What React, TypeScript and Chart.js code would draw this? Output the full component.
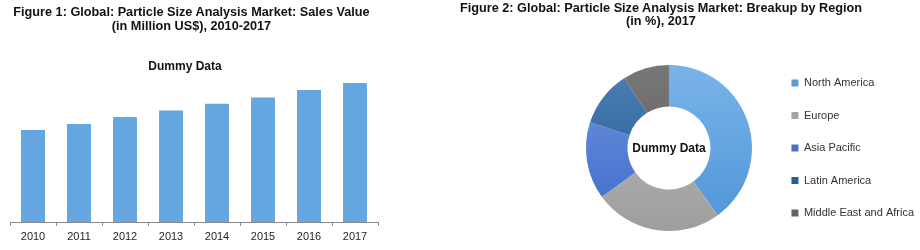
import React, { useEffect, useRef } from "react";
import { Chart, registerables } from "chart.js";

Chart.register(...registerables);

const FONT = '"Liberation Sans", Arial, sans-serif';

// ---- Figure 1 data ----
const years = ["2010", "2011", "2012", "2013", "2014", "2015", "2016", "2017"];
const salesValues = [97.5, 104, 111.3, 118.3, 125.4, 132.1, 139.9, 147.3];
const salesAxisMax = 150;

// ---- Figure 2 data ----
const regions = ["North America", "Europe", "Asia Pacific", "Latin America", "Middle East and Africa"];
const regionShares = [40, 25, 15, 11, 9];
const regionColors = ["#5B9BD5", "#A5A5A5", "#4472C4", "#255E91", "#636363"];
const regionColorsTop = ["#7AB3E9", "#BDBDBD", "#7096DD", "#4C7FB4", "#777777"];
const regionColorsBottom = ["#4E95D8", "#9E9E9E", "#3C69CB", "#1E5893", "#5A5A5A"];

// ---- Texts ----
const figure1Title = ["Figure 1: Global: Particle Size Analysis Market: Sales Value", "(in Million US$), 2010-2017"];
const figure2Title = ["Figure 2: Global: Particle Size Analysis Market: Breakup by Region", "(in %), 2017"];
const watermark = "Dummy Data";

const DONUT_RADIUS = 83;

const centerTextPlugin = {
  id: "centerText",
  afterDatasetsDraw(chart: any) {
    const meta = chart.getDatasetMeta(0);
    const arc = meta && meta.data && meta.data[0];
    if (!arc) return;
    const { ctx } = chart;
    ctx.save();
    ctx.font = `bold 12px ${FONT}`;
    ctx.fillStyle = "#111111";
    ctx.textAlign = "center";
    ctx.textBaseline = "middle";
    ctx.fillText(watermark, arc.x, arc.y + 1);
    ctx.restore();
  },
};

export default function App() {
  const barRef = useRef<HTMLCanvasElement | null>(null);
  const pieRef = useRef<HTMLCanvasElement | null>(null);

  useEffect(() => {
    const axisGrey = "#8C8C8C";
    const bar = new Chart(barRef.current as HTMLCanvasElement, {
      type: "bar",
      data: {
        labels: years,
        datasets: [
          {
            data: salesValues,
            backgroundColor: "#65A6E0",
            borderWidth: 0,
            barPercentage: 0.52,
            categoryPercentage: 1,
          },
        ],
      },
      options: {
        responsive: false,
        animation: false,
        devicePixelRatio: 1,
        layout: { padding: { top: 80.5, left: 10, right: 6, bottom: 2 } },
        plugins: {
          legend: { display: false },
          title: { display: false },
          tooltip: { enabled: false },
        },
        scales: {
          x: {
            type: "category",
            offset: true,
            grid: {
              display: true,
              drawOnChartArea: false,
              drawTicks: true,
              tickLength: 4,
              color: axisGrey,
              offset: true,
            },
            border: { display: true, color: axisGrey, width: 1 },
            ticks: {
              color: "#1E1E1E",
              font: { family: FONT, size: 11 },
              padding: 4.4,
              maxRotation: 0,
              autoSkip: false,
            },
          },
          y: { display: false, min: 0, max: salesAxisMax },
        },
      },
    });

    const sliceFill = (ctx: any) => {
      const i = ctx.dataIndex;
      const chart = ctx.chart;
      const area = chart.chartArea;
      if (!area || i === undefined) return regionColors[i] || regionColors[0];
      const cy = (area.top + area.bottom) / 2;
      const g = chart.ctx.createLinearGradient(0, cy - DONUT_RADIUS, 0, cy + DONUT_RADIUS);
      g.addColorStop(0, regionColorsTop[i]);
      g.addColorStop(1, regionColorsBottom[i]);
      return g;
    };

    const pie = new Chart(pieRef.current as HTMLCanvasElement, {
      type: "doughnut",
      data: {
        labels: regions,
        datasets: [
          {
            data: regionShares,
            backgroundColor: sliceFill,
            borderWidth: 0,
            radius: DONUT_RADIUS,
          },
        ],
      },
      options: {
        responsive: false,
        animation: false,
        devicePixelRatio: 1,
        cutout: "50%",
        layout: { padding: { top: 46, bottom: 0, left: 8, right: -4 } },
        plugins: {
          tooltip: { enabled: false },
          title: { display: false },
          legend: {
            display: true,
            position: "right",
            align: "center",
            fullSize: false,
            labels: {
              boxWidth: 7,
              boxHeight: 7,
              padding: 21.5,
              color: "#333333",
              font: { family: FONT, size: 11 },
              generateLabels: (chart: any) =>
                regions.map((name, i) => ({
                  text: name,
                  fillStyle: regionColors[i],
                  strokeStyle: regionColors[i],
                  lineWidth: 0,
                  fontColor: "#333333",
                  hidden: false,
                  index: i,
                })),
            },
          },
        },
      },
      plugins: [centerTextPlugin],
    });

    return () => {
      bar.destroy();
      pie.destroy();
    };
  }, []);

  const headingBase: React.CSSProperties = {
    position: "absolute",
    fontFamily: FONT,
    fontWeight: "bold",
    fontSize: "12.7px",
    color: "#111111",
    textAlign: "center",
    whiteSpace: "nowrap",
    margin: 0,
  };

  return (
    <div
      style={{
        position: "absolute",
        left: 0,
        top: 0,
        width: 920,
        height: 250,
        background: "#ffffff",
        overflow: "hidden",
      }}
    >
      <canvas
        ref={barRef}
        width={384}
        height={250}
        style={{ position: "absolute", left: 0, top: 0, width: 384, height: 250, display: "block" }}
      />
      <canvas
        ref={pieRef}
        width={360}
        height={250}
        style={{ position: "absolute", left: 560, top: 0, width: 360, height: 250, display: "block" }}
      />
      <div style={{ ...headingBase, left: 0, top: 5, width: 383, lineHeight: "14px" }}>
        {figure1Title[0]}
        <br />
        {figure1Title[1]}
      </div>
      <div
        style={{
          ...headingBase,
          left: 0,
          top: 59,
          width: 370,
          fontSize: "12px",
          lineHeight: "14px",
          color: "#111111",
        }}
      >
        {watermark}
      </div>
      <div style={{ ...headingBase, left: 440, top: 2, width: 442, lineHeight: "13px" }}>
        {figure2Title[0]}
        <br />
        {figure2Title[1]}
      </div>
    </div>
  );
}
